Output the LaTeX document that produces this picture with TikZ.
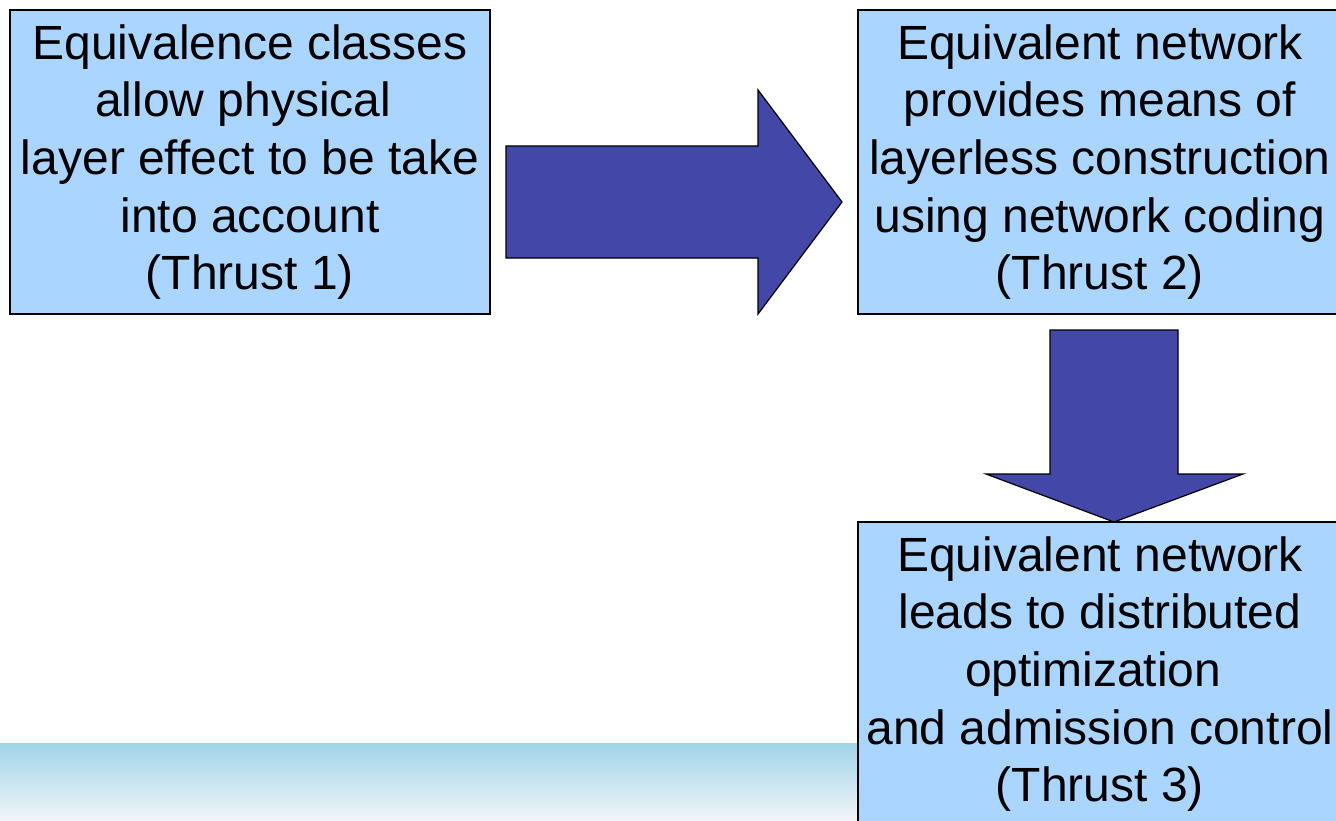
\documentclass[tikz,border=0pt]{standalone}
\usepackage{fontspec}
\setmainfont{Liberation Sans}
\usepackage{tikz}

\definecolor{boxblue}{HTML}{A9D5FF}
\definecolor{arrowblue}{HTML}{4348A8}
\definecolor{bandtop}{HTML}{A0D4E8}
\definecolor{bandbottom}{HTML}{F2F5F9}
\newcommand{\trailsp}{\rule{0.28em}{0pt}}

\begin{document}
\begin{tikzpicture}[x=1pt,y=-1pt,
    thrust/.style={draw=black, line width=1.2pt, fill=boxblue, align=center, inner sep=0pt,
        minimum height=304pt, font=\fontsize{48}{57.6}\selectfont},
    blockarrow/.style={draw=black, line width=1.2pt, fill=arrowblue, line join=miter}]
    \clip (0,0) rectangle (1336,821);

    % Background band
    \shade[top color=bandtop, bottom color=bandbottom] (0,743) rectangle (1336,821);

    % Thrust boxes
    \node[thrust, minimum width=480pt] (T1) at (250,162)
        {Equivalence classes\\allow physical\trailsp\\layer effect to be take\\into account\\(Thrust 1)};
    \node[thrust, minimum width=484pt] (T2) at (1100,162)
        {Equivalent network\\provides means of\\layerless construction\\using network coding\\(Thrust 2)};
    \node[thrust, minimum width=484pt] (T3) at (1100,674)
        {Equivalent network\\leads to distributed\\optimization\trailsp\\and admission control\\(Thrust 3)};

    % Arrow from Thrust 1 to Thrust 2
    \coordinate (A1) at (506,146);
    \coordinate (A2) at (758,90);
    \coordinate (Atip) at (842,202);
    \draw[blockarrow] (A1) -- (A1 -| A2) -- (A2) -- (Atip) -- (758,314) -- (758,258) -- (506,258) -- cycle;

    % Arrow from Thrust 2 to Thrust 3
    \coordinate (B1) at (1050,330);
    \coordinate (B2) at (986,474);
    \coordinate (Btip) at (1114,522);
    \draw[blockarrow] (B1) -- (1178,330) -- (1178,474) -- (1243,474) -- (Btip) -- (B2) -- (B2 -| B1) -- cycle;
\end{tikzpicture}
\end{document}
